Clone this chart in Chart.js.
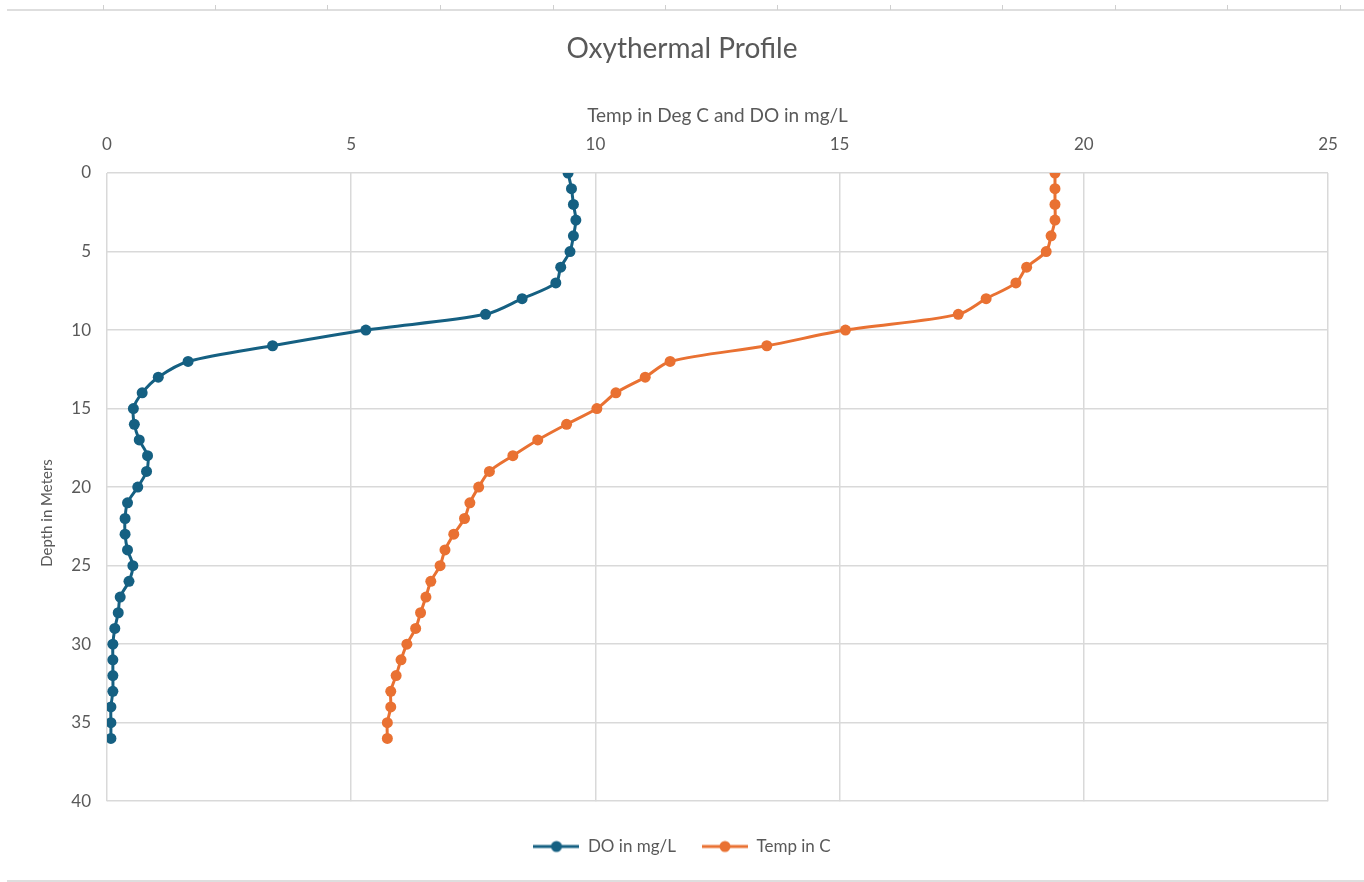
<!DOCTYPE html>
<html>
<head>
<meta charset="utf-8">
<script src="https://cdn.jsdelivr.net/npm/chart.js@4.4.1/dist/chart.umd.min.js"></script>
<style>
  html, body { margin: 0; padding: 0; background: #ffffff; }
  #wrap { position: relative; width: 1364px; height: 882px; }
  #topline { position: absolute; left: 7px; right: 0; top: 9px; height: 2px; background: #dedede; }
  .tick { position: absolute; top: 5px; width: 1px; height: 5px; background: #cfcfcf; }
  #botline { position: absolute; left: 7px; right: 0; top: 880px; height: 2px; background: #dedede; }
  canvas { position: absolute; left: 0; top: 0; }
</style>
</head>
<body>
<div id="wrap">
  <div id="topline"></div>
  <div id="botline"></div>
  <canvas id="c" width="1364" height="882"></canvas>
</div>
<script>
// ---- Data ----
const depths = [0,1,2,3,4,5,6,7,8,9,10,11,12,13,14,15,16,17,18,19,20,21,22,23,24,25,26,27,28,29,30,31,32,33,34,35,36];
const doValues = [9.44,9.51,9.55,9.60,9.55,9.48,9.29,9.19,8.50,7.75,5.30,3.39,1.66,1.05,0.72,0.54,0.56,0.66,0.83,0.81,0.63,0.42,0.37,0.37,0.42,0.53,0.45,0.27,0.23,0.16,0.12,0.12,0.12,0.12,0.08,0.08,0.08];
const tempValues = [19.41,19.41,19.41,19.41,19.33,19.23,18.83,18.61,18.00,17.43,15.12,13.51,11.53,11.02,10.42,10.03,9.41,8.82,8.31,7.83,7.61,7.43,7.32,7.10,6.92,6.82,6.63,6.53,6.42,6.32,6.14,6.02,5.92,5.81,5.81,5.74,5.74];
const seriesNames = ["DO in mg/L", "Temp in C"];
const seriesColors = ["#156082", "#E97132"];
const chartTitle = "Oxythermal Profile";
const xTitle = "Temp in Deg C and DO in mg/L";
const yTitle = "Depth in Meters";
const sheetColumnTicks = [103,215,327,440,553,665,777,890,1002,1115,1227,1340];

// decorative spreadsheet column ticks
sheetColumnTicks.forEach(x => {
  const d = document.createElement('div');
  d.className = 'tick';
  d.style.left = x + 'px';
  document.getElementById('wrap').appendChild(d);
});

function legendIcon(color) {
  const cv = document.createElement('canvas');
  cv.width = 46; cv.height = 14;
  const g = cv.getContext('2d');
  g.strokeStyle = color; g.lineWidth = 3;
  g.beginPath(); g.moveTo(0, 7); g.lineTo(46, 7); g.stroke();
  g.fillStyle = color;
  g.beginPath(); g.arc(23, 7, 5.5, 0, Math.PI * 2); g.fill();
  return cv;
}

const FONT = "Lato, 'Open Sans', sans-serif";
const TXT = "#595959";

const datasets = [doValues, tempValues].map((vals, i) => ({
  label: seriesNames[i],
  data: vals.map((v, k) => ({ x: v, y: depths[k] })),
  borderColor: seriesColors[i],
  backgroundColor: seriesColors[i],
  borderWidth: 3,
  pointRadius: 5.5,
  pointHoverRadius: 5.5,
  pointBorderWidth: 0,
  showLine: true,
  tension: 0.3,
  pointStyle: 'circle',
  xAxisID: 'x',
  yAxisID: 'y',
  legendIcon: legendIcon(seriesColors[i])
}));

const yTitlePlugin = {
  id: 'yTitlePlugin',
  afterDraw(chart) {
    const ctx = chart.ctx;
    ctx.save();
    ctx.translate(47, 513);
    ctx.rotate(-Math.PI / 2);
    ctx.fillStyle = TXT;
    ctx.font = "15px " + FONT;
    ctx.textAlign = 'center';
    ctx.textBaseline = 'middle';
    ctx.fillText(yTitle, 0, 0);
    ctx.restore();
  }
};

new Chart(document.getElementById('c'), {
  type: 'scatter',
  data: { datasets },
  plugins: [yTitlePlugin],
  options: {
    responsive: false,
    animation: false,
    layout: { padding: { left: 0, right: 0, top: 0, bottom: 17 } },
    plugins: {
      title: {
        display: true,
        text: chartTitle,
        color: TXT,
        font: { family: FONT, size: 28, weight: 'normal' },
        padding: { top: 32, bottom: 17 }
      },
      legend: {
        display: true,
        position: 'bottom',
        title: { display: true, text: ' ', font: { size: 9 }, padding: 0 },
        labels: {
          color: TXT,
          font: { family: FONT, size: 17 },
          usePointStyle: true,
          pointStyleWidth: 46,
          boxHeight: 14,
          padding: 26,
          generateLabels: (chart) => chart.data.datasets.map((ds, i) => ({
            text: ds.label,
            fillStyle: ds.borderColor,
            strokeStyle: ds.borderColor,
            fontColor: TXT,
            lineWidth: 0,
            pointStyle: ds.legendIcon,
            datasetIndex: i,
            hidden: false
          }))
        }
      },
      tooltip: { enabled: false }
    },
    scales: {
      x: {
        type: 'linear',
        position: 'top',
        min: 0, max: 25,
        ticks: { stepSize: 5, color: TXT, font: { family: FONT, size: 17 }, padding: 18 },
        grid: { color: '#d9d9d9', lineWidth: 1.5, drawTicks: false },
        border: { display: false },
        title: { display: true, text: xTitle, color: TXT, font: { family: FONT, size: 19 }, padding: { top: 22, bottom: 0 } },
        afterFit: (s) => { s.height = 173 - 82.6; }
      },
      y: {
        type: 'linear',
        position: 'left',
        reverse: true,
        min: 0, max: 40,
        ticks: { stepSize: 5, color: TXT, font: { family: FONT, size: 17 }, padding: 16 },
        grid: { color: '#d9d9d9', lineWidth: 1.5, drawTicks: false },
        border: { display: false },
        title: { display: false },
        afterFit: (s) => { s.width = 107; }
      },
      yRight: {
        type: 'linear',
        position: 'right',
        min: 0, max: 1,
        display: true,
        ticks: { display: false },
        grid: { display: false, drawTicks: false },
        border: { display: false },
        afterFit: (s) => { s.width = 36; }
      }
    }
  }
});
</script>
</body>
</html>
